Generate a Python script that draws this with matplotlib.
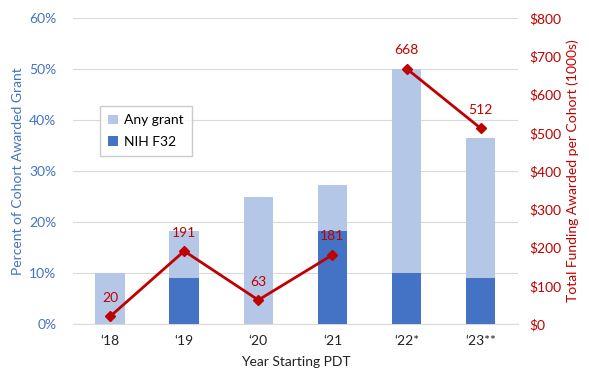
import numpy as np
import matplotlib.pyplot as plt
from matplotlib.ticker import FuncFormatter

plt.rcParams['font.family'] = ['Lato', 'DejaVu Sans']

# ── Data ──────────────────────────────────────────────────────────────────────
years      = ["\u201818", "\u201819", "\u201820", "\u201821", "\u201822*", "\u201823**"]
any_grant  = [10.0, 18.2, 25.0, 27.3, 50.0, 36.4]   # percent of cohort
nih_f32    = [0.0, 9.1, 0.0, 18.2, 10.0, 9.1]       # percent of cohort
funding    = [20, 191, 63, 181, 668, 512]           # $1000s per cohort
line_break = 4   # the funding line is not joined between '21 and '22*

LIGHT = "#B4C7E7"
DARK  = "#4472C4"
RED   = "#C00000"

fig = plt.figure(figsize=(5.89, 3.70), dpi=100)
ax = fig.add_axes([0.124, 0.124, 0.755, 0.827])
x = np.arange(len(years))

ax.bar(x, any_grant, width=0.4, color=LIGHT, label="Any grant", zorder=2)
ax.bar(x, nih_f32, width=0.4, color=DARK, label="NIH F32", zorder=3)

ax.set_xlim(-0.5, len(years) - 0.5)
ax.set_ylim(0, 60)
ax.set_yticks(np.arange(0, 61, 10))
ax.yaxis.set_major_formatter(FuncFormatter(lambda v, p: f"{v:.0f}%"))
ax.set_xticks(x)
ax.set_xticklabels(years, fontsize=10)
ax.grid(axis="y", color="#D9D9D9", linewidth=0.8, zorder=0)
ax.tick_params(axis="y", colors=DARK, labelsize=10, length=0, pad=12)
ax.tick_params(axis="x", length=0, pad=8, labelcolor="#222222")
for s in ["top", "left", "right"]:
    ax.spines[s].set_visible(False)
ax.spines["bottom"].set_color("#D9D9D9")
ax.set_ylabel("Percent of Cohort Awarded Grant", color=DARK, fontsize=10)
ax.set_xlabel("Year Starting PDT", fontsize=10, color="#222222", labelpad=6)

leg = ax.legend(loc="upper left", bbox_to_anchor=(0.045, 0.735), fontsize=10,
                frameon=True, fancybox=False, edgecolor="#BFBFBF",
                handlelength=0.7, handleheight=0.7, borderpad=0.6,
                labelspacing=0.65, handletextpad=0.4)

# ── Secondary axis: funding line ─────────────────────────────────────────────
ax2 = ax.twinx()
for seg in (slice(0, line_break), slice(line_break, None)):
    ax2.plot(x[seg], funding[seg], color=RED, linewidth=2, marker="D",
             markersize=5, zorder=4)
for xi, v in zip(x, funding):
    ax2.annotate(str(v), (xi, v), textcoords="offset points", xytext=(0, 9),
                 ha="center", va="bottom", color=RED, fontsize=10)
ax2.set_ylim(0, 800)
ax2.set_yticks(np.arange(0, 801, 100))
ax2.yaxis.set_major_formatter(FuncFormatter(lambda v, p: f"${v:.0f}"))
ax2.tick_params(axis="y", colors=RED, labelsize=10, length=0, pad=8)
for s in ["top", "left", "right", "bottom"]:
    ax2.spines[s].set_visible(False)
ax2.set_ylabel("Total Funding Awarded per Cohort (1000s)", color=RED, fontsize=10)

fig.savefig("out.png", dpi=100)
